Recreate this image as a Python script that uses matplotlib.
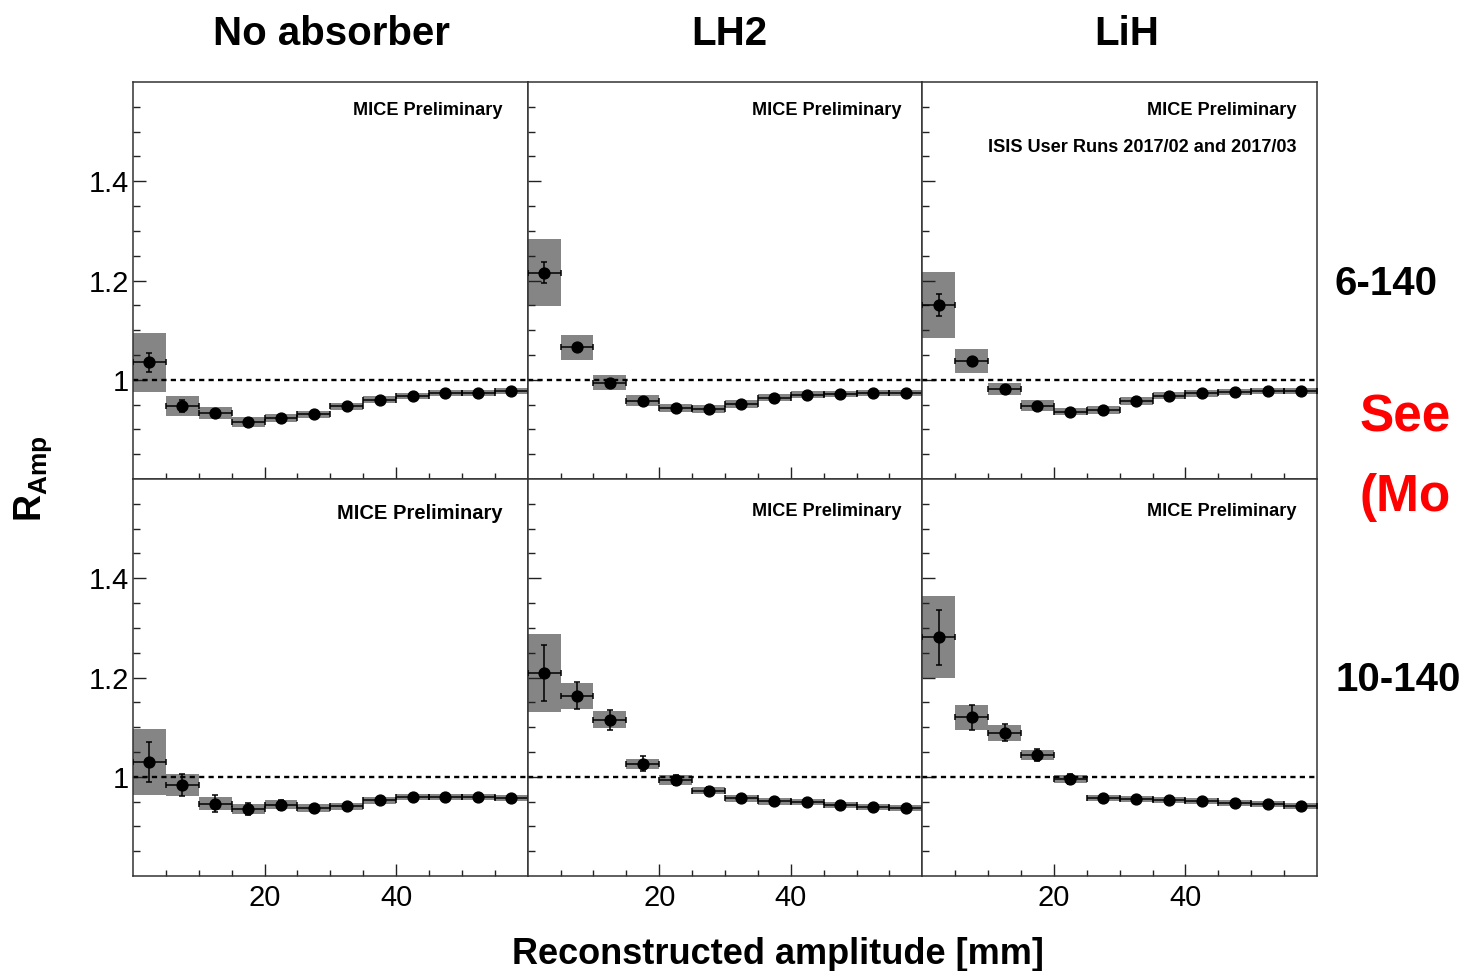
import numpy as np
import matplotlib
matplotlib.use("Agg")
import matplotlib.pyplot as plt
from matplotlib.ticker import FixedLocator, FixedFormatter

plt.rcParams["font.family"] = ["Liberation Sans", "DejaVu Sans"]
plt.rcParams["mathtext.fontset"] = "custom"
plt.rcParams["mathtext.bf"] = "Liberation Sans:bold"
plt.rcParams["mathtext.rm"] = "Liberation Sans"

# ---------------- data ----------------
bin_edges = [0, 5, 10, 15, 20, 25, 30, 35, 40, 45, 50, 55, 60]
absorbers = ["No absorber", "LH2", "LiH"]
ranges = ["6-140", "10-140"]

# top row: 6-140
r_none_6 = [1.035, 0.947, 0.933, 0.914, 0.922, 0.930, 0.947, 0.960, 0.968, 0.974, 0.974, 0.977]
s_none_6 = [0.059, 0.020, 0.012, 0.010, 0.008, 0.008, 0.007, 0.007, 0.006, 0.006, 0.006, 0.006]
e_none_6 = [0.019, 0.012, 0.005, 0.004, 0.004, 0.004, 0.003, 0.003, 0.003, 0.003, 0.003, 0.003]

r_lh2_6 = [1.216, 1.065, 0.994, 0.958, 0.944, 0.941, 0.951, 0.964, 0.970, 0.972, 0.974, 0.974]
s_lh2_6 = [0.068, 0.025, 0.015, 0.011, 0.008, 0.008, 0.008, 0.007, 0.007, 0.006, 0.006, 0.006]
e_lh2_6 = [0.021, 0.008, 0.006, 0.004, 0.004, 0.004, 0.003, 0.003, 0.003, 0.003, 0.003, 0.003]

r_lih_6 = [1.151, 1.037, 0.981, 0.948, 0.936, 0.939, 0.958, 0.968, 0.973, 0.976, 0.978, 0.978]
s_lih_6 = [0.066, 0.024, 0.012, 0.011, 0.008, 0.008, 0.008, 0.007, 0.007, 0.006, 0.006, 0.006]
e_lih_6 = [0.022, 0.007, 0.005, 0.004, 0.004, 0.004, 0.003, 0.003, 0.003, 0.003, 0.003, 0.003]

# bottom row: 10-140
r_none_10 = [1.030, 0.983, 0.946, 0.935, 0.944, 0.937, 0.941, 0.953, 0.960, 0.960, 0.959, 0.957]
s_none_10 = [0.066, 0.022, 0.013, 0.010, 0.009, 0.008, 0.007, 0.007, 0.006, 0.006, 0.006, 0.006]
e_none_10 = [0.040, 0.022, 0.017, 0.013, 0.010, 0.007, 0.006, 0.006, 0.006, 0.005, 0.005, 0.005]

r_lh2_10 = [1.209, 1.163, 1.115, 1.026, 0.993, 0.972, 0.957, 0.951, 0.949, 0.944, 0.940, 0.937]
s_lh2_10 = [0.078, 0.026, 0.017, 0.010, 0.010, 0.007, 0.007, 0.007, 0.006, 0.006, 0.006, 0.006]
e_lh2_10 = [0.057, 0.027, 0.020, 0.015, 0.010, 0.007, 0.006, 0.005, 0.005, 0.005, 0.005, 0.005]

r_lih_10 = [1.281, 1.120, 1.089, 1.043, 0.995, 0.957, 0.955, 0.953, 0.952, 0.948, 0.946, 0.942]
s_lih_10 = [0.083, 0.025, 0.016, 0.010, 0.008, 0.006, 0.006, 0.006, 0.006, 0.006, 0.006, 0.006]
e_lih_10 = [0.055, 0.025, 0.017, 0.012, 0.010, 0.005, 0.005, 0.005, 0.005, 0.005, 0.005, 0.005]

panels = [
    [(r_none_6, s_none_6, e_none_6), (r_lh2_6, s_lh2_6, e_lh2_6), (r_lih_6, s_lih_6, e_lih_6)],
    [(r_none_10, s_none_10, e_none_10), (r_lh2_10, s_lh2_10, e_lh2_10), (r_lih_10, s_lih_10, e_lih_10)],
]

y_ticks = [1.0, 1.2, 1.4]
y_tick_labels = ["1", "1.2", "1.4"]
x_ticks = [20, 40]
x_tick_labels = ["20", "40"]

# ---------------- figure ----------------
W, H = 1463, 971
fig = plt.figure(figsize=(W / 100, H / 100), dpi=100)
axes = fig.subplots(2, 3, sharex=True, sharey=True)
fig.subplots_adjust(left=133 / W, right=1317 / W, top=1 - 82 / H, bottom=1 - 876 / H,
                    wspace=0, hspace=0)

edges = np.array(bin_edges, dtype=float)
centers = 0.5 * (edges[:-1] + edges[1:])
widths = np.diff(edges)

for r in range(2):
    for c in range(3):
        ax = axes[r][c]
        vals, syst, stat = (np.array(a) for a in panels[r][c])
        ax.bar(centers, 2 * syst, bottom=vals - syst, width=widths, align="center",
               color="#858585", edgecolor="none", zorder=1)
        ax.axhline(1.0, color="black", lw=1.7, ls=(0, (2.2, 1.8)), zorder=2)
        ax.errorbar(centers, vals, xerr=widths / 2, yerr=stat, fmt="o", color="black",
                    ms=7.8, elinewidth=1.1, capsize=2.0, capthick=1.1, zorder=3)
        ax.set_xlim(0, 60)
        ax.set_ylim(0.8, 1.6)
        ax.xaxis.set_major_locator(FixedLocator(x_ticks))
        ax.xaxis.set_major_formatter(FixedFormatter(x_tick_labels))
        ax.xaxis.set_minor_locator(FixedLocator([5, 10, 15, 25, 30, 35, 45, 50, 55]))
        ax.yaxis.set_major_locator(FixedLocator(y_ticks))
        ax.yaxis.set_major_formatter(FixedFormatter(y_tick_labels))
        ax.yaxis.set_minor_locator(FixedLocator([0.85, 0.9, 0.95, 1.05, 1.1, 1.15,
                                                 1.25, 1.3, 1.35, 1.45, 1.5, 1.55]))
        ax.tick_params(which="both", direction="in", top=False, right=False,
                       labelsize=21, width=1.0, color="#222222")
        ax.tick_params(which="major", axis="y", length=9.5, pad=3)
        ax.tick_params(which="minor", axis="y", length=5)
        ax.tick_params(which="major", axis="x", length=9, pad=6)
        ax.tick_params(which="minor", axis="x", length=4.5)
        if c != 0:
            ax.tick_params(axis="y", labelleft=False)
        if r != 1:
            ax.tick_params(axis="x", labelbottom=False)
        for sp in ax.spines.values():
            sp.set_linewidth(1.1)
            sp.set_color("#333333")

# "MICE Preliminary" labels
mice_pos = [[(0.9375, 0.927, 13.1), (0.947, 0.927, 13.1), (0.949, 0.927, 13.1)],
            [(0.9375, 0.914, 14.5), (0.947, 0.919, 13.1), (0.949, 0.919, 13.1)]]
for r in range(2):
    for c in range(3):
        xf, yf, fs = mice_pos[r][c]
        axes[r][c].text(xf, yf, "MICE Preliminary", transform=axes[r][c].transAxes,
                        ha="right", va="center", fontsize=fs, fontweight="bold", zorder=5)
axes[0][2].text(0.949, 0.834, "ISIS User Runs 2017/02 and 2017/03",
                transform=axes[0][2].transAxes, ha="right", va="center",
                fontsize=13.1, fontweight="bold", zorder=5)

# column titles
title_x = [331, 729, 1127]
for name, tx in zip(absorbers, title_x):
    fig.text(tx / W, 1 - 45 / H, name, ha="center", va="baseline",
             fontsize=29, fontweight="bold")

# row labels
fig.text(1335 / W, 1 - 284 / H, ranges[0], ha="left", va="center", fontsize=29, fontweight="bold")
fig.text(1336 / W, 1 - 680 / H, ranges[1], ha="left", va="center", fontsize=29, fontweight="bold")

# red note (cut off at the right edge in the reference)
fig.text(1360 / W, 1 - 418 / H, "See", ha="left", va="center", fontsize=37,
         fontweight="bold", color="#ff0000")
fig.text(1360 / W, 1 - 497 / H, "(Mo", ha="left", va="center", fontsize=37,
         fontweight="bold", color="#ff0000")

# axis labels
fig.text(778 / W, 1 - 964 / H, "Reconstructed amplitude [mm]", ha="center", va="baseline",
         fontsize=26, fontweight="bold")
fig.text(33 / W, 1 - 479 / H, r"$\mathbf{R}_{\mathbf{Amp}}$", ha="center", va="center",
         rotation=90, fontsize=27)

fig.savefig("out.png", dpi=100)
